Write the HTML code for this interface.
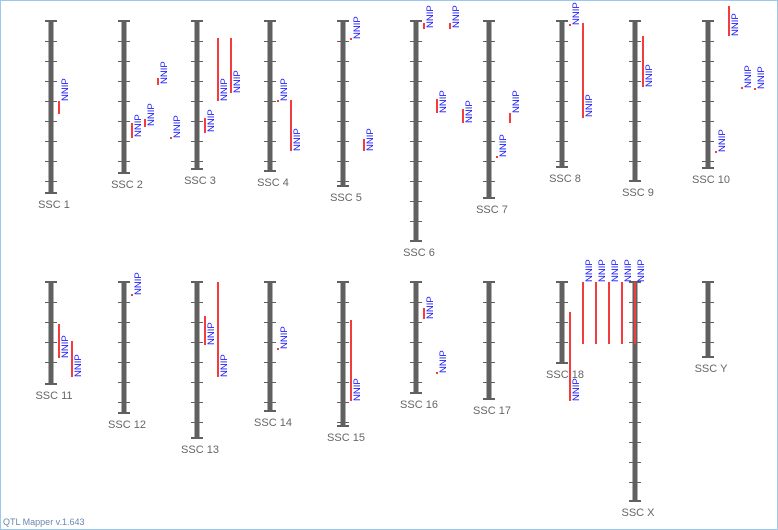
<!DOCTYPE html>
<html><head><meta charset="utf-8"><style>
body{margin:0;background:#fff}
#c{position:relative;width:776px;height:528px;border:1px solid #9cc8ec;background:#fff;overflow:hidden}
svg text{font-family:"Liberation Sans",sans-serif}
</style></head><body>
<div id="c">
<svg id="s" width="776" height="528">
<text x="2" y="524" font-size="9" fill="#6a86b0">QTL Mapper v.1.643</text>
</svg></div>
<script>
// chromosome data: name, length (px units)
const chromNames=["SSC 1","SSC 2","SSC 3","SSC 4","SSC 5","SSC 6","SSC 7","SSC 8","SSC 9","SSC 10","SSC 11","SSC 12","SSC 13","SSC 14","SSC 15","SSC 16","SSC 17","SSC 18","SSC X","SSC Y"];
const chromLengths=[172,152,148,150,165,220,177,146,160,147,102,131,156,129,144,111,117,81,219,75];
// QTLs: chromosome index, start, end (offset from chromosome top), label bottom offset, column slot
const qtlChrom=[0,1,1,1,1,2,2,2,3,3,4,4,5,5,5,5,6,6,7,7,8,9,9,9,9,10,10,11,12,12,13,14,15,15,17,17,17,17,17,17];
const qtlStart=[80,102,98,57,116,97,17,17,79,79,17,118,2,78,2,88,135,92,3,2,15,130,-15,66,67,42,59,12,34,0,66,38,26,90,30,0,0,0,0,0];
const qtlEnd=[93,117,106,64,118,112,80,72,80,130,19,130,8,92,8,102,137,102,5,97,66,132,15,68,69,76,95,14,63,95,68,119,37,92,119,62,62,62,62,62];
const qtlLabel=[80,116,105,63,117,111,80,72,80,130,18,130,7,92,7,102,136,92,4,96,66,131,15,67,68,76,95,13,63,95,67,119,37,91,119,0,0,0,0,0];
const qtlSlot=[0,0,1,2,3,0,1,2,0,1,0,1,0,1,2,3,0,1,0,1,0,0,1,2,3,0,1,0,0,1,0,0,0,1,0,1,2,3,4,5];
const NS="http://www.w3.org/2000/svg";
const svg=document.getElementById('s');
function mk(t,a){const e=document.createElementNS(NS,t);for(const k in a)e.setAttribute(k,a[k]);svg.appendChild(e);return e;}
function colX(i){return 50+73*(i%10);}
function rowTop(i){return i<10?20:281;}
chromNames.forEach((n,i)=>{
  const x=colX(i),t=rowTop(i),b=t+chromLengths[i];
  const bar=mk('rect',{x:x-2.5,y:t,width:5,height:b-t,fill:'#606060'});
  
  
  for(let y=t+20;y<b-2;y+=20){
    const tk=mk('line',{x1:x-6,x2:x+6,y1:y+0.5,y2:y+0.5,stroke:'#606060','stroke-width':1});
    
    
  }
  [t,b].forEach(y=>{
    const cp=mk('line',{x1:x-6,x2:x+6,y1:y,y2:y,stroke:'#606060','stroke-width':2});
    
    
  });
  const tx=mk('text',{x:x+3,y:b+15,'font-size':11,fill:'#666','text-anchor':'middle'});
  tx.textContent=n;
  
  
});
qtlChrom.forEach((c,j)=>{
  const x=colX(c)+7+qtlSlot[j]*13,t=rowTop(c);
  const y1=t+qtlStart[j],y2=Math.max(t+qtlEnd[j],y1+2);
  const r=mk('rect',{x:x,y:y1,width:2,height:y2-y1,fill:'#f43c3c'});
  
  
  const ly=t+qtlLabel[j];
  const lb=mk('text',{x:0,y:0,'font-size':9.5,fill:'#1a1aff',transform:`translate(${x+10},${ly}) rotate(-90)`});
  lb.textContent='NNIP';
  
  
});
</script>
</body></html>
